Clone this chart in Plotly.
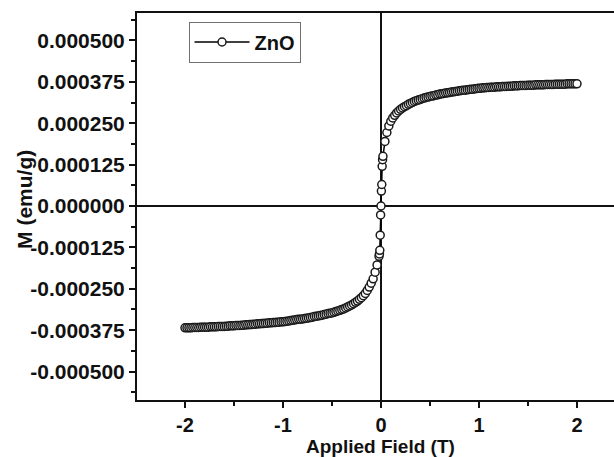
import plotly.graph_objects as go

# Applied field (T), sweep from -2 T to +2 T
field_T = [
    -2.00, -1.98, -1.96, -1.94, -1.92, -1.90, -1.88, -1.86, -1.84, -1.82,
    -1.80, -1.78, -1.76, -1.74, -1.72, -1.70, -1.68, -1.66, -1.64, -1.62,
    -1.60, -1.58, -1.56, -1.54, -1.52, -1.50, -1.48, -1.46, -1.44, -1.42,
    -1.40, -1.38, -1.36, -1.34, -1.32, -1.30, -1.28, -1.26, -1.24, -1.22,
    -1.20, -1.18, -1.16, -1.14, -1.12, -1.10, -1.08, -1.06, -1.04, -1.02,
    -1.00, -0.98, -0.96, -0.94, -0.92, -0.90, -0.88, -0.86, -0.84, -0.82,
    -0.80, -0.78, -0.76, -0.74, -0.72, -0.70, -0.68, -0.66, -0.64, -0.62,
    -0.60, -0.58, -0.56, -0.54, -0.52, -0.50, -0.48, -0.46, -0.44, -0.42,
    -0.40, -0.38, -0.36, -0.34, -0.32, -0.30, -0.28, -0.26, -0.24, -0.22,
    -0.20, -0.18, -0.16, -0.14, -0.12, -0.10, -0.08, -0.06, -0.04, -0.02,
    -0.016, -0.012, -0.008, -0.004, 0.0,
    0.004, 0.008, 0.012, 0.016,
    0.02, 0.04, 0.06, 0.08, 0.10, 0.12, 0.14, 0.16, 0.18, 0.20,
    0.22, 0.24, 0.26, 0.28, 0.30, 0.32, 0.34, 0.36, 0.38, 0.40,
    0.42, 0.44, 0.46, 0.48, 0.50, 0.52, 0.54, 0.56, 0.58, 0.60,
    0.62, 0.64, 0.66, 0.68, 0.70, 0.72, 0.74, 0.76, 0.78, 0.80,
    0.82, 0.84, 0.86, 0.88, 0.90, 0.92, 0.94, 0.96, 0.98, 1.00,
    1.02, 1.04, 1.06, 1.08, 1.10, 1.12, 1.14, 1.16, 1.18, 1.20,
    1.22, 1.24, 1.26, 1.28, 1.30, 1.32, 1.34, 1.36, 1.38, 1.40,
    1.42, 1.44, 1.46, 1.48, 1.50, 1.52, 1.54, 1.56, 1.58, 1.60,
    1.62, 1.64, 1.66, 1.68, 1.70, 1.72, 1.74, 1.76, 1.78, 1.80,
    1.82, 1.84, 1.86, 1.88, 1.90, 1.92, 1.94, 1.96, 1.98, 2.00,
]

# Magnetization in micro-emu/g, one value per field point above
m_uemu_g = [
    -368, -368, -368, -368, -367, -367, -367, -367, -366, -366,
    -366, -366, -366, -365, -365, -365, -365, -364, -364, -364,
    -364, -363, -363, -362, -362, -362, -361, -361, -361, -360,
    -360, -359, -359, -358, -358, -357, -357, -356, -356, -355,
    -355, -354, -354, -353, -353, -352, -352, -351, -351, -350,
    -350, -349, -348, -347, -346, -345, -344, -343, -342, -342,
    -341, -340, -339, -338, -337, -336, -334, -333, -332, -331,
    -330, -328, -327, -325, -324, -323, -321, -319, -317, -315,
    -313, -311, -308, -305, -302, -299, -295, -291, -287, -282,
    -277, -271, -264, -255, -245, -233, -220, -200, -178, -152,
    -145, -134, -88, -27, 0,
    45, 65, 120, 140,
    150, 195, 222, 242, 256, 266, 274, 281, 287, 292,
    296, 300, 303, 307, 310, 313, 316, 318, 320, 322,
    324, 326, 328, 329, 331, 332, 333, 335, 336, 338,
    339, 340, 341, 342, 343, 344, 345, 346, 347, 348,
    349, 350, 350, 351, 352, 353, 353, 354, 355, 356,
    356, 357, 357, 358, 358, 359, 359, 359, 360, 360,
    360, 361, 361, 361, 362, 362, 362, 363, 363, 363,
    364, 364, 364, 364, 365, 365, 365, 365, 366, 366,
    366, 366, 366, 367, 367, 367, 367, 367, 368, 368,
    368, 368, 368, 368, 369, 369, 369, 369, 369, 369,
]

# convert to emu/g
m_emu_g = [v * 1e-6 for v in m_uemu_g]

x_tick_vals = [-2, -1, 0, 1, 2]
x_tick_text = ["-2", "-1", "0", "1", "2"]
x_minor_vals = [-1.5, -0.5, 0.5, 1.5]

y_tick_vals = [0.0005, 0.000375, 0.00025, 0.000125, 0.0,
               -0.000125, -0.00025, -0.000375, -0.0005]
y_tick_text = ["0.000500", "0.000375", "0.000250", "0.000125", "0.000000",
               "-0.000125", "-0.000250", "-0.000375", "-0.000500"]
y_minor_vals = [0.0005625, 0.0004375, 0.0003125, 0.0001875, 0.0000625,
                -0.0000625, -0.0001875, -0.0003125, -0.0004375, -0.0005625]

FONT = "Arial, Liberation Sans, sans-serif"
INK = "#111111"

fig = go.Figure()
fig.add_trace(go.Scatter(
    x=field_T,
    y=m_emu_g,
    mode="lines+markers",
    name="ZnO",
    line=dict(color="black", width=1.5),
    marker=dict(symbol="circle", size=8, color="white",
                line=dict(color="#1a1a1a", width=1.5)),
))

fig.update_layout(
    width=614,
    height=457,
    margin=dict(l=137, r=0, t=13, b=57),
    paper_bgcolor="white",
    plot_bgcolor="white",
    showlegend=True,
    legend=dict(
        x=0.108, y=0.978, xanchor="left", yanchor="top",
        bordercolor="#707070", borderwidth=1, bgcolor="white",
        itemwidth=55,
        font=dict(family=FONT, size=20, color=INK, weight="bold"),
    ),
    xaxis=dict(
        range=[-2.49, 2.378],
        tickmode="array", tickvals=x_tick_vals, ticktext=x_tick_text,
        ticks="outside", ticklen=6, tickwidth=2, tickcolor=INK,
        minor=dict(tickmode="array", tickvals=x_minor_vals, ticks="outside",
                   ticklen=4, tickwidth=2, tickcolor=INK, showgrid=False),
        tickfont=dict(family=FONT, size=20, color=INK, weight="bold"),
        showline=True, linecolor=INK, linewidth=2, mirror=True,
        showgrid=False,
        zeroline=True, zerolinecolor=INK, zerolinewidth=2,
    ),
    yaxis=dict(
        range=[-0.000586, 0.000583],
        tickmode="array", tickvals=y_tick_vals, ticktext=y_tick_text,
        ticks="outside", ticklen=6, tickwidth=2, tickcolor=INK,
        minor=dict(tickmode="array", tickvals=y_minor_vals, ticks="outside",
                   ticklen=4, tickwidth=2, tickcolor=INK, showgrid=False),
        tickfont=dict(family=FONT, size=21, color=INK, weight="bold"),
        showline=True, linecolor=INK, linewidth=2, mirror=False,
        showgrid=False,
        zeroline=True, zerolinecolor=INK, zerolinewidth=2,
    ),
    annotations=[
        dict(text="Applied Field (T)", xref="x", yref="paper",
             x=0, y=-0.1189, xanchor="center", yanchor="middle",
             showarrow=False,
             font=dict(family=FONT, size=19, color=INK, weight="bold")),
        dict(text="M (emu/g)", xref="paper", yref="paper",
             x=-0.2348, y=0.517, xanchor="center", yanchor="middle",
             textangle=-90, showarrow=False,
             font=dict(family=FONT, size=21, color=INK, weight="bold")),
    ],
)

fig.write_html("out.html", config={"displayModeBar": False})
